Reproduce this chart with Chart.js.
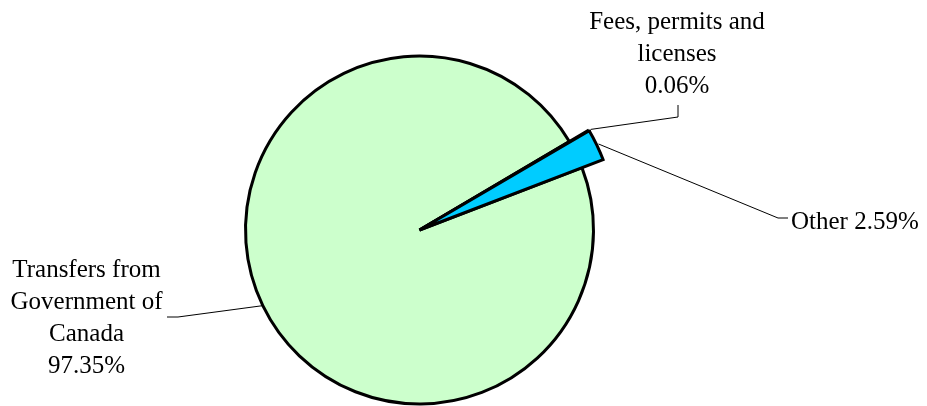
<!DOCTYPE html>
<html>
<head>
<meta charset="utf-8">
<script src="https://cdn.jsdelivr.net/npm/chart.js@4/dist/chart.umd.min.js"></script>
<style>
  html, body { margin: 0; padding: 0; background: #fff; }
  #wrap { width: 927px; height: 406px; }
</style>
</head>
<body>
<div id="wrap"><canvas id="revenue"></canvas></div>
<script>
var categories = ['Transfers from Government of Canada', 'Fees, permits and licenses', 'Other'];
var shares = [97.35, 0.06, 2.59];
var sliceColors = ['#CCFFCC', '#9999FF', '#00CCFF'];

// how each category name is broken over lines on the chart
var labelLines = [
  ['Transfers from', 'Government of', 'Canada'],
  ['Fees, permits and', 'licenses'],
  ['Other']
];

// where each label sits and how its leader line bends
var labelPlaces = [
  { x: 86.5, y: 277, align: 'center', inline: false, elbow: [178, 317], end: [167, 317] },
  { x: 677, y: 29, align: 'center', inline: false, elbow: [678, 117], end: [678, 105] },
  { x: 791, y: 229, align: 'left', inline: true, elbow: [778, 218], end: [788, 218] }
];

// the small slices stick out past the rim
var pullOut = [1, 1.13, 1.13];

var FONT = '25px "Liberation Serif", "DejaVu Serif", serif';
var LINE_H = 32;

function pctText(v) { return v.toFixed(2) + '%'; }

var pullPlugin = {
  id: 'pull',
  beforeDatasetsDraw: function(chart) {
    var meta = chart.getDatasetMeta(0);
    var base = meta.controller.outerRadius;
    meta.data.forEach(function(arc, i) {
      arc.outerRadius = base * pullOut[i];
    });
  }
};

var labelPlugin = {
  id: 'sliceLabels',
  afterDraw: function(chart) {
    var ctx = chart.ctx;
    var meta = chart.getDatasetMeta(0);
    ctx.save();

    // leader lines
    ctx.strokeStyle = '#000';
    ctx.lineWidth = 1;
    meta.data.forEach(function(arc, i) {
      var place = labelPlaces[i];
      var mid = (arc.startAngle + arc.endAngle) / 2;
      var r = arc.outerRadius + (pullOut[i] > 1 ? 2 : 0);
      ctx.beginPath();
      ctx.moveTo(arc.x + Math.cos(mid) * r, arc.y + Math.sin(mid) * r);
      ctx.lineTo(place.elbow[0], place.elbow[1]);
      ctx.lineTo(place.end[0], place.end[1]);
      ctx.stroke();
    });

    // label text
    ctx.fillStyle = '#000';
    ctx.font = FONT;
    ctx.textBaseline = 'alphabetic';
    labelPlaces.forEach(function(place, i) {
      var lines = labelLines[i].slice();
      if (place.inline) {
        lines[lines.length - 1] += ' ' + pctText(shares[i]);
      } else {
        lines.push(pctText(shares[i]));
      }
      ctx.textAlign = place.align;
      lines.forEach(function(line, j) {
        ctx.fillText(line, place.x, place.y + j * LINE_H);
      });
    });
    ctx.restore();
  }
};

new Chart(document.getElementById('revenue'), {
  type: 'pie',
  data: {
    labels: categories,
    datasets: [{
      data: shares,
      backgroundColor: sliceColors,
      borderColor: '#000',
      borderWidth: 3,
      borderJoinStyle: 'miter'
    }]
  },
  options: {
    responsive: true,
    maintainAspectRatio: false,
    animation: false,
    rotation: 69,
    radius: 174,
    layout: { padding: { top: 54, bottom: 0, left: 0, right: 88 } },
    plugins: {
      legend: { display: false },
      tooltip: { enabled: false }
    }
  },
  plugins: [pullPlugin, labelPlugin]
});
</script>
</body>
</html>
